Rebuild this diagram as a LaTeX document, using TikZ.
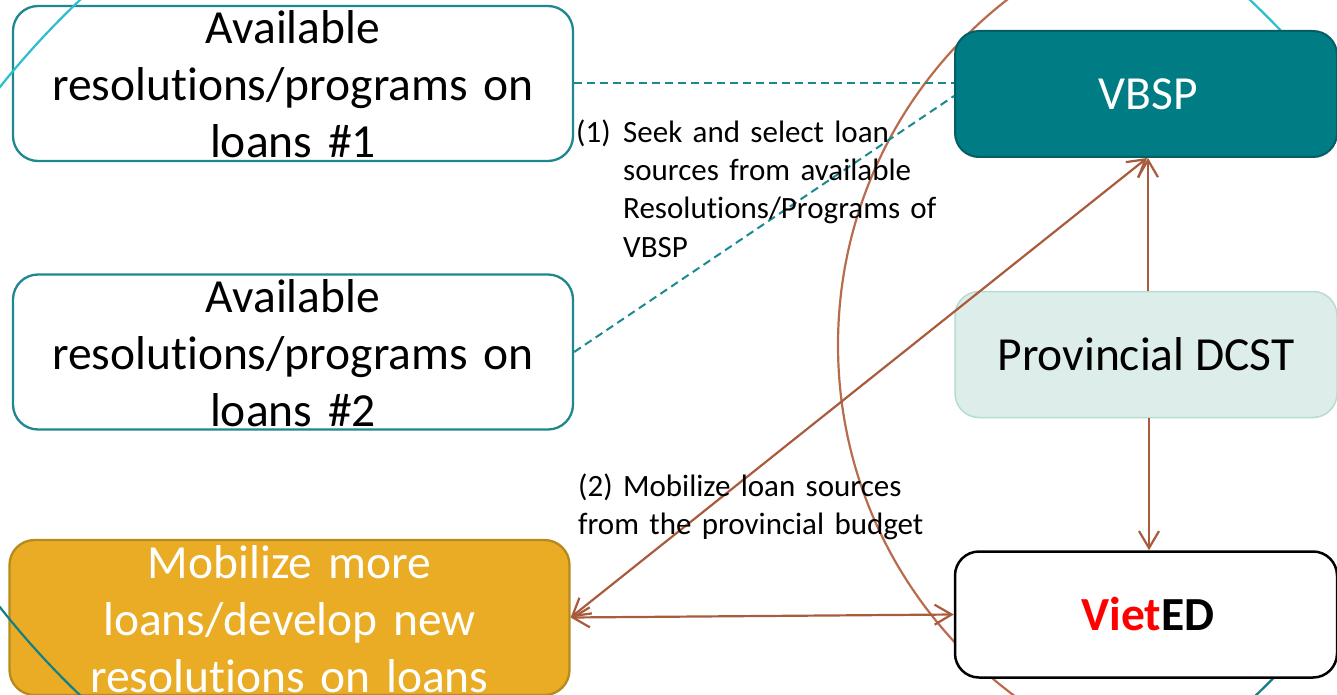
\documentclass[tikz,border=0pt]{standalone}
\usepackage{fontspec}
\setmainfont[Ligatures={NoCommon,NoContextual},RawFeature={-liga;-clig;-dlig;-calt}]{Carlito}
\usetikzlibrary{arrows.meta,calc}

\definecolor{tealline}{HTML}{1E8790}
\definecolor{vbspfill}{HTML}{007C85}
\definecolor{vbspedge}{HTML}{035E66}
\definecolor{dcstfill}{HTML}{DDEEEA}
\definecolor{dcstedge}{HTML}{B6DCD2}
\definecolor{goldfill}{HTML}{E9AC24}
\definecolor{goldedge}{HTML}{B58A1F}
\definecolor{arrowbrown}{HTML}{A95B3D}
\definecolor{ringbrown}{HTML}{B86C4D}
\definecolor{ringcyan}{HTML}{2BBFCD}
\definecolor{ringteal}{HTML}{147F88}
\definecolor{dashteal}{HTML}{1B8A90}

\tikzset{
  box/.style={rounded corners=25pt, line width=2.3pt, minimum width=560pt,
    minimum height=155pt, inner sep=0pt},
  sourcebox/.style={box, draw=tealline},
  mobbox/.style={box, draw=goldedge, fill=goldfill},
  rightbox/.style={rounded corners=24pt, minimum width=382pt, minimum height=126pt,
    inner sep=0pt, font=\fontsize{47.5}{57}\selectfont},
  vbspbox/.style={rightbox, draw=vbspedge, fill=vbspfill, line width=2pt, text=white},
  dcstbox/.style={rightbox, draw=dcstedge, fill=dcstfill, line width=1.5pt},
  vietbox/.style={rightbox, draw=black, fill=white, line width=2.5pt},
  bigtext/.style={font=\fontsize{47.5}{57}\selectfont, text width=560pt,
    align=center, inner sep=0pt, anchor=base},
  note/.style={font=\fontsize{31}{38}\selectfont, inner sep=0pt,
    anchor=base west, text width=340pt, align=left},
  dashlink/.style={draw=dashteal, line width=2pt, dash pattern=on 8pt off 5pt},
  arrow/.style={draw=arrowbrown, line width=2.2pt},
  ring/.style={line width=2.2pt}
}

\begin{document}
\begin{tikzpicture}[x=1pt, y=-1pt, >={Straight Barb[length=17pt,width=20pt]}]
\useasboundingbox (0,0) rectangle (1337,695);

% left column of boxes
\node[sourcebox] (b1) at (293,83.5) {};
\node[sourcebox] (b2) at (293,352) {};
\node[mobbox] (mob) at (289.5,617.5) {};

% decorative rings
\begin{scope}
  \clip (0,0) rectangle (1337,695);
  \draw[ring, ringcyan] (665,618) circle[radius=851];
  \draw[ring, ringteal] (668,80) circle[radius=851];
  \draw[ring, ringbrown] (1275,345) circle[radius=437];
\end{scope}

% right column of boxes
\node[vbspbox] (vbsp) at (1146,94) {\hspace*{5pt}VBSP};
\node[dcstbox] (dcst) at (1146,354.5) {Provincial DCST};
\node[vietbox] (viet) at (1146,614.5) {\hspace*{4pt}\bfseries\textcolor{red}{Viet}ED};

% box texts
\node[bigtext] (t1) at (293,44) {Available\\resolutions/programs on\\loans \#1};
\node[bigtext] (t2) at (293,312) {Available\\resolutions/programs on\\loans \#2};
\node[bigtext, text=white] (t3) at (289.5,578) {Mobilize more\\loans/develop new\\resolutions on loans};

% links to VBSP programmes
\draw[dashlink] (b1.east) -- (b1.east -| vbsp.west);
\draw[dashlink] (b2.east) -- ($(vbsp.west)+(0,2)$);

% arrows
\draw[arrow, ->] ([xshift=2pt]dcst.north) -- ([xshift=2pt]vbsp.south);
\draw[arrow, ->] ([xshift=3pt]dcst.south) -- ([xshift=3pt]viet.north);
\draw[arrow, <->] (mob.east) -- ([xshift=1pt]vbsp.south);
\draw[arrow, <->] (mob.east) -- (viet.west);

% step notes
\node[note, text width=40pt] (n1a) at (576,143) {(1)};
\node[note] (n1) at (623,143) {Seek and select loan\\sources from available\\Resolutions/Programs of\\VBSP};
\node[note, text width=360pt] (n2) at (578,496) {(2) Mobilize loan sources\\from the provincial budget};
\end{tikzpicture}
\end{document}
